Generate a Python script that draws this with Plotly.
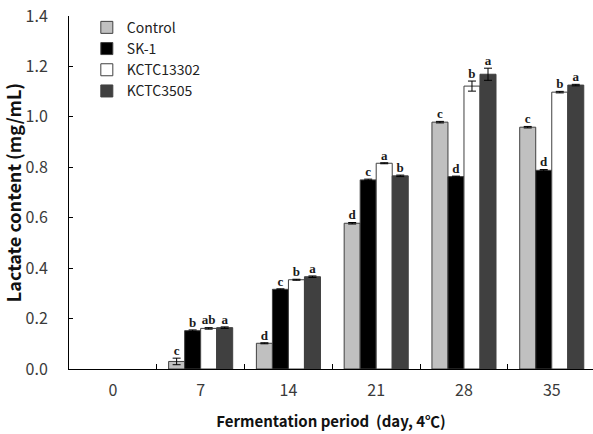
import plotly.graph_objects as go

days = ["0", "7", "14", "21", "28", "35"]
series_names = ["Control", "SK-1", "KCTC13302", "KCTC3505"]
control = [None, 0.030, 0.102, 0.578, 0.979, 0.959]
sk1 = [None, 0.152, 0.316, 0.750, 0.763, 0.788]
kctc13302 = [None, 0.161, 0.354, 0.816, 1.122, 1.098]
kctc3505 = [None, 0.164, 0.366, 0.766, 1.169, 1.126]
err_control = [0, 0.013, 0.002, 0.003, 0.003, 0.003]
err_sk1 = [0, 0.003, 0.002, 0.003, 0.002, 0.003]
err_13302 = [0, 0.003, 0.002, 0.002, 0.020, 0.003]
err_3505 = [0, 0.003, 0.003, 0.003, 0.024, 0.003]
let_control = ["", "c", "d", "d", "c", "c"]
let_sk1 = ["", "b", "c", "c", "d", "d"]
let_13302 = ["", "ab", "b", "a", "b", "b"]
let_3505 = ["", "a", "a", "b", "a", "a"]

values = [control, sk1, kctc13302, kctc3505]
errors = [err_control, err_sk1, err_13302, err_3505]
letters = [let_control, let_sk1, let_13302, let_3505]
colors = ["#C0C0C0", "#000000", "#FFFFFF", "#404040"]

fig = go.Figure()
for name, v, e, c in zip(series_names, values, errors, colors):
    fig.add_trace(go.Bar(
        x=days, y=v, name=name,
        marker=dict(color=c, line=dict(color="#404040", width=1)),
        error_y=dict(type="data", array=e, visible=True, color="#000000", thickness=1, width=4),
    ))

for name, v, e, t in zip(series_names, values, errors, letters):
    tops = [None if a is None else a + b for a, b in zip(v, e)]
    fig.add_trace(go.Scatter(
        x=days, y=tops, mode="text", text=t, textposition="top center",
        showlegend=False, hoverinfo="skip", cliponaxis=False,
        textfont=dict(family="Liberation Serif", size=13, color="#1a1a1a", weight="bold"),
    ))

fig.update_layout(
    width=593, height=434,
    margin=dict(l=69, r=0, t=16, b=65),
    barmode="group", bargap=0.27, bargroupgap=0,
    scattermode="group", scattergap=0.27,
    plot_bgcolor="white", paper_bgcolor="white",
    font=dict(family="Noto Sans CJK KR", size=14, color="#333333"),
    legend=dict(x=0.034, y=1.012, xanchor="left", yanchor="top",
                font=dict(size=14, color="#222222"), tracegroupgap=0,
                itemwidth=30, bgcolor="rgba(0,0,0,0)"),
)
fig.update_xaxes(
    type="category", range=[-0.5, 5.47],
    showline=True, linecolor="#000000", linewidth=1,
    ticks="inside", ticklen=5, tickson="boundaries", tickcolor="#000000",
    ticklabelstandoff=7, tickfont=dict(size=16, color="#3a3a3a"),
    title=dict(text="<b>Fermentation period  (day, 4℃)</b>", font=dict(size=15, color="#111111"), standoff=16),
)
fig.update_yaxes(
    range=[0, 1.4], dtick=0.2, tickformat=".1f",
    showline=True, linecolor="#000000", linewidth=1,
    ticks="inside", ticklen=4, tickcolor="#000000",
    showgrid=False, zeroline=False, ticklabelstandoff=17,
    tickfont=dict(size=16, color="#3a3a3a"),
    title=dict(text="<b>Lactate content (mg/mL)</b>", font=dict(size=18, color="#111111"), standoff=2),
)
fig.write_html("out.html")
